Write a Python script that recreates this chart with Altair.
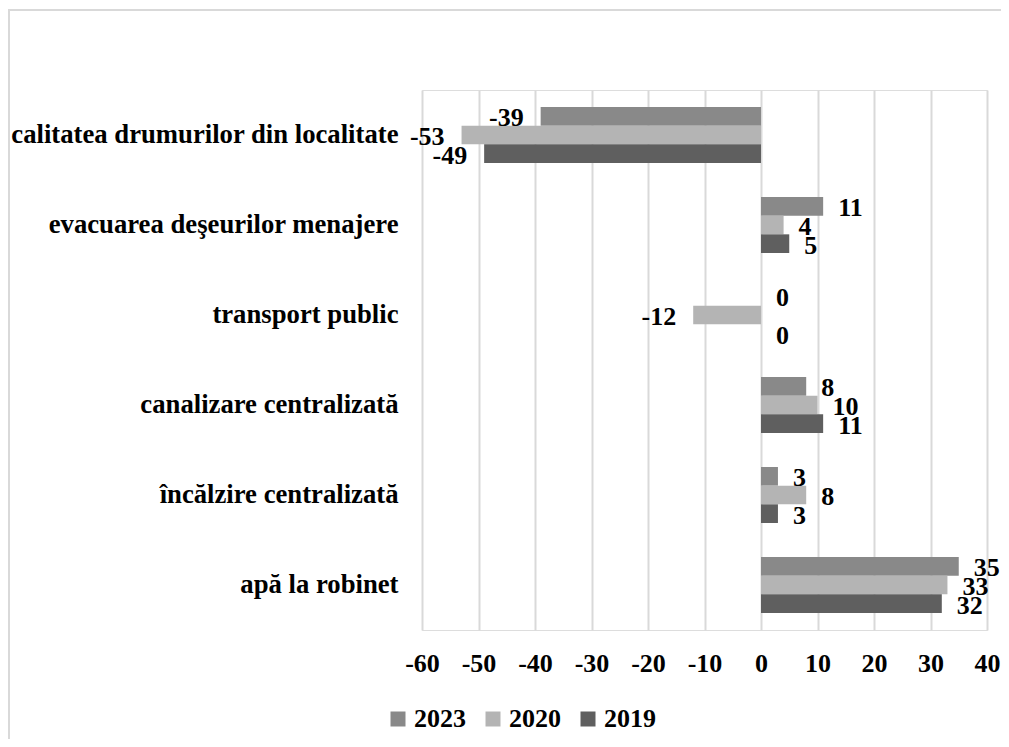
import altair as alt
import pandas as pd

categories = [
    "calitatea drumurilor din localitate",
    "evacuarea deşeurilor menajere",
    "transport public",
    "canalizare centralizată",
    "încălzire centralizată",
    "apă la robinet",
]
years = ["2023", "2020", "2019"]
v2023 = [-39, 11, 0, 8, 3, 35]
v2020 = [-53, 4, -12, 10, 8, 33]
v2019 = [-49, 5, 0, 11, 3, 32]
colors = ["#898989", "#b4b4b4", "#5f5f5f"]
x_ticks = [-60, -50, -40, -30, -20, -10, 0, 10, 20, 30, 40]

rows = []
for yr, vals in zip(years, [v2023, v2020, v2019]):
    for c, v in zip(categories, vals):
        rows.append({"cat": c, "year": yr, "value": v, "label": str(v)})
df = pd.DataFrame(rows)

FONT = "Liberation Serif, Times New Roman, serif"

base = alt.Chart(df).encode(
    y=alt.Y("cat:N", sort=categories, title=None,
            scale=alt.Scale(paddingInner=0.378, paddingOuter=0.189),
            axis=alt.Axis(labelFont=FONT, labelFontWeight="bold", labelFontSize=26.7,
                          labelColor="black", labelPadding=24, labelLimit=600,
                          ticks=False, domain=False, grid=False)),
    yOffset=alt.YOffset("year:N", sort=years, scale=alt.Scale(paddingInner=0, paddingOuter=0)),
)

bars = base.mark_bar().encode(
    x=alt.X("value:Q", title=None,
            scale=alt.Scale(domain=[-60, 40], nice=False),
            axis=alt.Axis(values=x_ticks, labelExpr="'' + datum.value",
                          labelFont=FONT, labelFontWeight="bold", labelFontSize=26,
                          labelColor="black", labelPadding=20, labelFlush=False,
                          labelOverlap=False,
                          ticks=False, domain=False, grid=True,
                          gridColor="#d9d9d9", gridWidth=2)),
    color=alt.Color("year:N", sort=years,
                    scale=alt.Scale(domain=years, range=colors),
                    legend=alt.Legend(title=None, orient="none", direction="horizontal",
                                      legendX=-37, legendY=616,
                                      symbolType="square", symbolSize=225,
                                      symbolStrokeWidth=0, labelFont=FONT,
                                      labelFontWeight="bold", labelFontSize=26,
                                      labelColor="black", labelOffset=3,
                                      columnPadding=14)),
)

pos_text = base.transform_filter("datum.value >= 0").mark_text(
    align="left", baseline="middle", dx=15, dy=2,
    font=FONT, fontWeight="bold", fontSize=26, color="black"
).encode(x="value:Q", text="label:N")

neg_text = base.transform_filter("datum.value < 0").mark_text(
    align="right", baseline="middle", dx=-17, dy=2,
    font=FONT, fontWeight="bold", fontSize=26, color="black"
).encode(x="value:Q", text="label:N")

border = alt.Chart(pd.DataFrame({"a": [0]})).mark_rect(
    filled=False, stroke="#d9d9d9", strokeWidth=2
).encode(x=alt.value(-413), x2=alt.value(700), y=alt.value(-80), y2=alt.value(800))

chart = alt.layer(border, bars, pos_text, neg_text).properties(
    width=565, height=540,
    autosize=alt.AutoSizeParams(type="none"),
    padding={"left": 414, "top": 82, "right": 14, "bottom": 109},
).configure_view(stroke=None).configure(background="white")

chart.save("out.html", embed_options={"renderer": "svg", "actions": False})
